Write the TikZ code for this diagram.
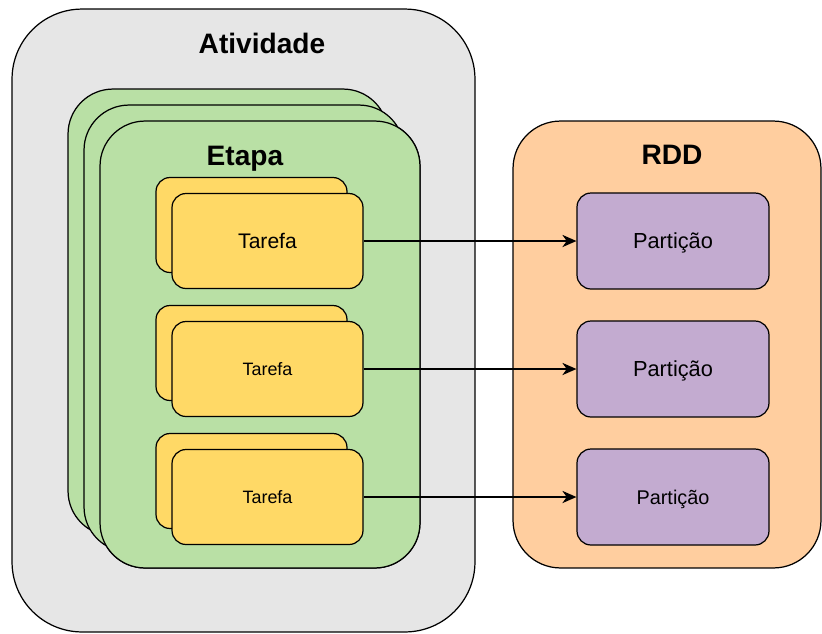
\documentclass[tikz,border=0pt]{standalone}
\usepackage{fontspec}
\setmainfont{Liberation Sans}
\usepackage{xcolor}
\usepackage{tikz}
\usetikzlibrary{positioning}
\usetikzlibrary{arrows.meta}
\usetikzlibrary{calc}

\definecolor{cinza}{HTML}{E6E6E6}
\definecolor{verde}{HTML}{B9E0A5}
\definecolor{amarelo}{HTML}{FFD966}
\definecolor{laranja}{HTML}{FFCE9F}
\definecolor{roxo}{HTML}{C3ABD0}

\begin{document}
\begin{tikzpicture}[x=0.02cm,y=-0.02cm]
\tikzstyle{caixa}=[draw=black,line width=0.7pt,inner sep=0pt]
\tikzstyle{atividade}=[caixa,fill=cinza,minimum width=9.26cm,minimum height=12.46cm,rounded corners=1.4cm]
\tikzstyle{etapa}=[caixa,fill=verde,minimum width=6.4cm,minimum height=8.94cm,rounded corners=0.9cm]
\tikzstyle{rdd}=[caixa,fill=laranja,minimum width=6.16cm,minimum height=8.94cm,rounded corners=0.95cm]
\tikzstyle{tarefa}=[caixa,fill=amarelo,minimum width=3.82cm,minimum height=1.9cm,rounded corners=0.28cm,text depth=0pt]
\tikzstyle{particao}=[caixa,fill=roxo,minimum width=3.84cm,minimum height=1.92cm,rounded corners=0.28cm,text depth=0pt,font=\fontsize{12.4}{14}\selectfont]
\tikzstyle{titulo}=[anchor=base,font=\fontsize{16}{19}\selectfont\bfseries]
\tikzstyle{seta}=[line width=0.7pt,-{Stealth[length=8pt,width=7pt,inset=2.5pt]}]

\useasboundingbox (0,0) rectangle (822,633);

% atividade e etapas empilhadas
\node[atividade] (ativ) at (243.5,320.5) {};
\node[etapa] (etapa) at (260,344.5) {};
\node[etapa] (etapa2) at ($(etapa)+(-32,-32)$) {};
\node[etapa] (etapa1) at ($(etapa)+(-16,-16)$) {};
\node[etapa] (etapa0) at (etapa) {};
\node[titulo] (tativ) at (262,53) {Atividade};
\node[titulo] (tetapa) at (245,165) {Etapa};

% tarefas
\node[tarefa] (tar1b) at ($(267.5,241)+(-16,-16)$) {};
\node[tarefa,font=\fontsize{12}{14}\selectfont] (tar1) at (267.5,241) {Tarefa};
\node[tarefa] (tar2b) at ($(267.5,369)+(-16,-16)$) {};
\node[tarefa,font=\fontsize{10.2}{12}\selectfont] (tar2) at (267.5,369) {Tarefa};
\node[tarefa] (tar3b) at ($(267.5,497)+(-16,-16)$) {};
\node[tarefa,font=\fontsize{10.2}{12}\selectfont] (tar3) at (267.5,497) {Tarefa};

% rdd e particoes
\node[rdd] (rdd) at (667,344.5) {};
\node[titulo] (trdd) at (672,164) {RDD};
\node[particao] (par1) at (673,241) {Partição};
\node[particao] (par2) at (673,369) {Partição};
\node[particao,font=\fontsize{11.3}{13}\selectfont] (par3) at (673,497) {Partição};

\draw[seta] (tar1) -- (par1);
\draw[seta] (tar2) -- (par2);
\draw[seta] (tar3) -- (par3);
\end{tikzpicture}
\end{document}
